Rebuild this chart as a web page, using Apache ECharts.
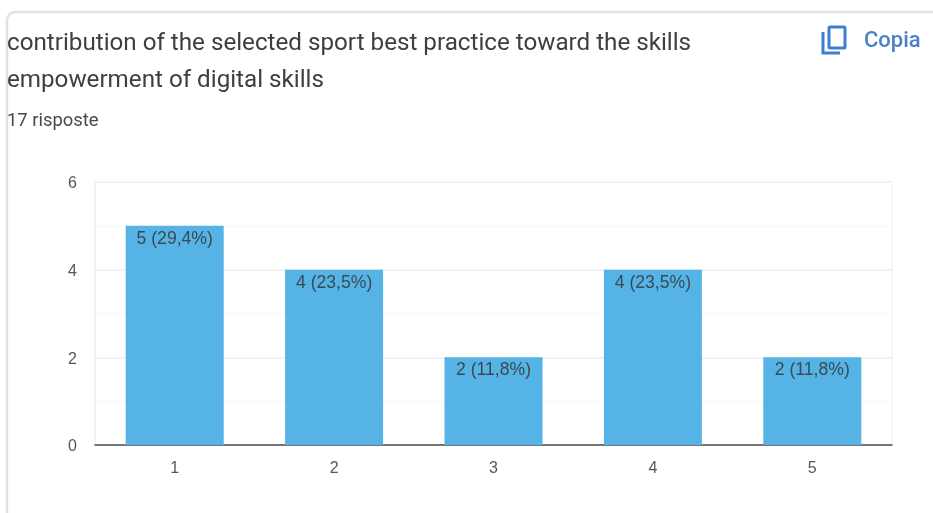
<!DOCTYPE html>
<html><head><meta charset="utf-8">
<style>html,body{margin:0;padding:0;background:#fff}#c{width:933px;height:513px}</style>
<script src="https://cdn.jsdelivr.net/npm/echarts@6/dist/echarts.min.js"></script>
</head><body><div id="c"></div>
<script>
const categories = ['1','2','3','4','5'];
const counts = [5,4,2,4,2];
const barLabels = ['5 (29,4%)','4 (23,5%)','2 (11,8%)','4 (23,5%)','2 (11,8%)'];
const questionTitle = 'contribution of the selected sport best practice toward the skills\nempowerment of digital skills';
const responsesText = '17 risposte';
const copyText = 'Copia';
const font = 'Roboto, Arial, sans-serif';
const chartFont = '"Liberation Sans", Arial, sans-serif';
const chart = echarts.init(document.getElementById('c'), null, {renderer:'canvas'});
chart.setOption({
  backgroundColor:'#fff',
  animation:false,
  title:[
    {text:questionTitle,left:2,top:20,textStyle:{fontFamily:font,fontSize:24.2,fontWeight:400,color:'#3c4043',lineHeight:37}},
    {text:responsesText,left:2,top:107,textStyle:{fontFamily:font,fontSize:18.4,fontWeight:400,color:'#47494c'}}
  ],
  grid:{left:95,right:41,top:182,bottom:68},
  xAxis:{type:'category',data:categories,
    axisLine:{show:true,lineStyle:{color:'#4a4c50',width:1.5}},
    axisTick:{show:false},
    axisLabel:{fontFamily:chartFont,fontSize:16,color:'#55585b',margin:16},
    splitLine:{show:false}},
  yAxis:{type:'value',min:0,max:6,interval:2,
    axisLine:{show:false},axisTick:{show:false},
    axisLabel:{margin:18,formatter:'{a|{value}}',
      rich:{a:{fontFamily:chartFont,fontSize:16,color:'#55585b',padding:[4,0,0,0]}}},
    splitLine:{show:true,lineStyle:{color:'#eeeeee',width:1.5}},
    minorTick:{show:false,splitNumber:2},
    minorSplitLine:{show:true,lineStyle:{color:'#f6f6f6',width:1}}},
  series:[{type:'bar',data:counts,barWidth:98,
    itemStyle:{color:'#55b4e5'},
    label:{show:true,position:'insideTop',distance:4,
      formatter:p=>barLabels[p.dataIndex],
      fontFamily:chartFont,fontSize:17.6,color:'#3a4a55'}}],
  graphic:[
    {type:'rect',z:-1,shape:{x:7,y:12,width:1000,height:600,r:8},style:{fill:'#fff',stroke:'#e2e2e2',lineWidth:2.5}},
    {type:'line',z:-1,shape:{x1:95,y1:182,x2:95,y2:445},style:{stroke:'#eeeeee',lineWidth:1.5}},
    {type:'line',z:-1,shape:{x1:892,y1:182,x2:892,y2:445},style:{stroke:'#f0f0f0',lineWidth:1}},
    {type:'rect',shape:{x:829,y:27,width:16,height:21,r:1},style:{fill:'none',stroke:'#3f7fd0',lineWidth:3}},
    {type:'polyline',shape:{points:[[823,32],[823,53],[840,53]]},style:{fill:'none',stroke:'#3f7fd0',lineWidth:3}},
    {type:'text',x:864,y:30,style:{text:copyText,font:'500 22px '+font,fill:'#4a80c8'}}
  ]
});
</script></body></html>
